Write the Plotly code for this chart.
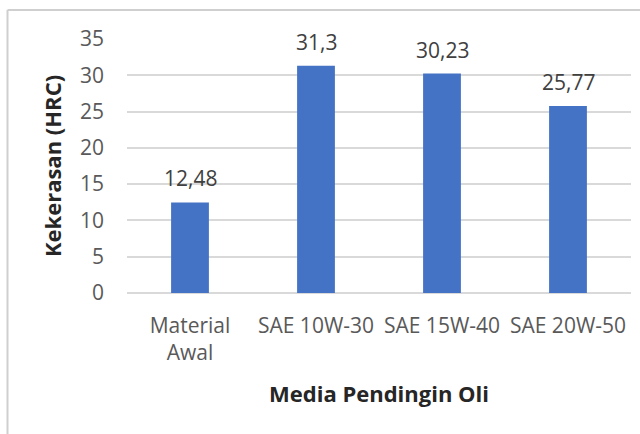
import plotly.graph_objects as go

categories = ["Material<br>Awal", "SAE 10W-30", "SAE 15W-40", "SAE 20W-50"]
values = [12.48, 31.3, 30.23, 25.77]
value_labels = ["12,48", "31,3", "30,23", "25,77"]
y_ticks = [0, 5, 10, 15, 20, 25, 30, 35]

W, H = 640, 434
L, T = 127, 39
pw, ph = 504, 254
R, B = W - L - pw, H - T - ph

def px_x(x):
    return (x - L) / pw

def px_y(y):
    return (H - B - y) / ph

FONT = "Open Sans"
FS = 21

fig = go.Figure()
fig.add_trace(go.Bar(
    x=categories, y=values,
    marker=dict(color="#4472C4", line=dict(width=0)),
    width=0.3,
))

for c, v, t in zip(categories, values, value_labels):
    fig.add_annotation(x=c, y=v, text=t, showarrow=False, yanchor="bottom",
                       yshift=8, font=dict(family=FONT, size=FS, color="#404040"))

# outer chart border (left and top edges visible in the frame)
border = dict(color="#cfcfcf", width=2)
fig.add_shape(type="line", xref="paper", yref="paper",
              x0=px_x(7.5), x1=px_x(7.5), y0=px_y(440), y1=px_y(10), line=border)
fig.add_shape(type="line", xref="paper", yref="paper",
              x0=px_x(7.5), x1=px_x(645), y0=px_y(10), y1=px_y(10), line=border)

fig.update_layout(
    width=W, height=H,
    margin=dict(l=L, r=R, t=T, b=B, pad=0),
    paper_bgcolor="white", plot_bgcolor="white",
    showlegend=False,
    font=dict(family=FONT, size=FS, color="#595959"),
    xaxis=dict(
        showgrid=False, showline=False, ticks="", zeroline=False,
        ticklabelstandoff=18,
        tickfont=dict(family=FONT, size=FS, color="#595959"),
        title=dict(text="<b>Media Pendingin Oli</b>", standoff=21,
                   font=dict(family=FONT, size=22, color="#262626")),
    ),
    yaxis=dict(
        range=[0, 35], tickvals=y_ticks, showgrid=True, gridcolor="#d9d9d9",
        gridwidth=1.5, zeroline=True, zerolinecolor="#d9d9d9", zerolinewidth=1.5,
        showline=False, ticks="", ticklabelstandoff=22,
        tickfont=dict(family=FONT, size=FS, color="#595959"),
        title=dict(text="<b>Kekerasan (HRC)</b>", standoff=12,
                   font=dict(family=FONT, size=22, color="#262626")),
    ),
)

fig.write_html("out.html", config={"displayModeBar": False},
               post_script="document.body.style.margin='0';")
